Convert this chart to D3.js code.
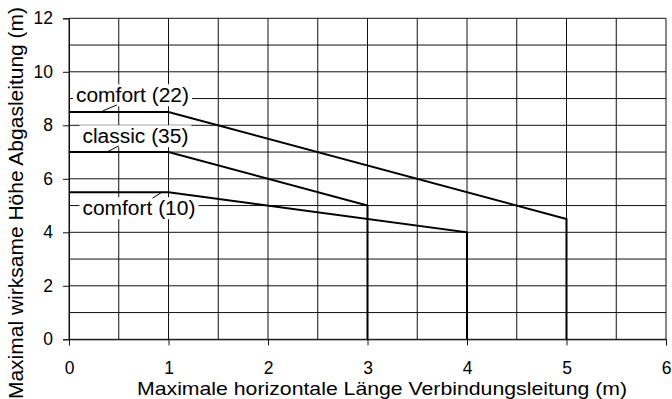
<!DOCTYPE html>
<html>
<head>
<meta charset="utf-8">
<script src="https://cdn.jsdelivr.net/npm/d3@7"></script>
<style>
  html, body { margin: 0; padding: 0; background: #fff; }
  svg { display: block; }
  text { font-family: Arial, "Liberation Sans", sans-serif; fill: #000; }
</style>
</head>
<body>
<script>
// Series: maximum effective flue height vs. horizontal connector length
const seriesNames = ["comfort (22)", "classic (35)", "comfort (10)"];
const seriesX = [
  [0, 1, 5, 5],
  [0, 1, 3, 3],
  [0, 1, 4, 4]
];
const seriesY = [
  [8.5, 8.5, 4.5, 0],
  [7, 7, 5, 0],
  [5.5, 5.5, 4, 0]
];
// Label anchors (left/baseline) and leader lines, in data units
const labelX = [0.07, 0.135, 0.135];
const labelY = [8.86, 7.33, 4.64];
const leaderFrom = [[0.34, 8.54], [0.38, 7.0], [0.84, 5.28]];
const leaderTo = [[0.48, 8.76], [0.50, 7.23], [0.94, 5.51]];

const xTicks = [0, 1, 2, 3, 4, 5, 6];
const yTicks = [0, 2, 4, 6, 8, 10, 12];
const xGrid = d3.range(0, 6.01, 0.5);
const yGrid = d3.range(0, 12.01, 1);

const xTitle = "Maximale horizontale Länge Verbindungsleitung (m)";
const yTitle = "Maximal wirksame Höhe Abgasleitung (m)";

const W = 672, H = 399;
const x = d3.scaleLinear().domain([0, 6]).range([69, 666]);
const y = d3.scaleLinear().domain([0, 12]).range([339.3, 18.3]);

const svg = d3.select("body").append("svg").attr("width", W).attr("height", H);

// grid
const grid = svg.append("g").attr("stroke", "#111").attr("stroke-width", 1);
grid.selectAll("line.v").data(xGrid).join("line")
  .attr("x1", d => x(d)).attr("x2", d => x(d))
  .attr("y1", y(0)).attr("y2", y(12));
grid.selectAll("line.h").data(yGrid).join("line")
  .attr("x1", x(0)).attr("x2", x(6))
  .attr("y1", d => y(d)).attr("y2", d => y(d));

// axes
const xAxis = d3.axisBottom(x).tickValues(xTicks).tickSize(6).tickPadding(16).tickFormat(d3.format("d"));
const yAxis = d3.axisLeft(y).tickValues(yTicks).tickSize(6).tickPadding(10).tickFormat(d3.format("d"));
const gx = svg.append("g").attr("transform", `translate(0,${y(0)})`).call(xAxis);
const gy = svg.append("g").attr("transform", `translate(${x(0)},0)`).call(yAxis);
[gx, gy].forEach(g => {
  g.select(".domain").attr("stroke", "#111");
  g.selectAll(".tick line").attr("stroke", "#111");
  g.selectAll(".tick text").attr("font-size", 17.5).attr("font-family", "Arial, 'Liberation Sans', sans-serif").attr("fill", "#000");
});

// series lines
const line = d3.line().x(d => x(d[0])).y(d => y(d[1]));
svg.append("g").selectAll("path").data(seriesX).join("path")
  .attr("d", (xs, i) => line(xs.map((v, j) => [v, seriesY[i][j]])))
  .attr("fill", "none").attr("stroke", "#000").attr("stroke-width", 2);

// labels with white backing and leader lines
const labelWidth = [113, 106, 113];
const lab = svg.append("g");
seriesNames.forEach((name, i) => {
  const t = lab.append("text")
    .attr("x", x(labelX[i])).attr("y", y(labelY[i]))
    .attr("font-size", 20)
    .attr("textLength", labelWidth[i]).attr("lengthAdjust", "spacingAndGlyphs")
    .text(name);
  const b = t.node().getBBox();
  lab.insert("rect", "text")
    .attr("x", b.x - 3).attr("y", b.y)
    .attr("width", b.width + 6).attr("height", b.height)
    .attr("fill", "#fff");
  lab.append("line")
    .attr("x1", x(leaderFrom[i][0])).attr("y1", y(leaderFrom[i][1]))
    .attr("x2", x(leaderTo[i][0])).attr("y2", y(leaderTo[i][1]))
    .attr("stroke", "#000").attr("stroke-width", 1);
});

// axis titles
svg.append("text").attr("x", 382).attr("y", 395).attr("text-anchor", "middle")
  .attr("font-size", 18.6)
  .attr("textLength", 490).attr("lengthAdjust", "spacingAndGlyphs")
  .text(xTitle);
svg.append("text").attr("transform", "translate(22.5,203) rotate(-90)").attr("text-anchor", "middle")
  .attr("font-size", 21).text(yTitle);
</script>
</body>
</html>
